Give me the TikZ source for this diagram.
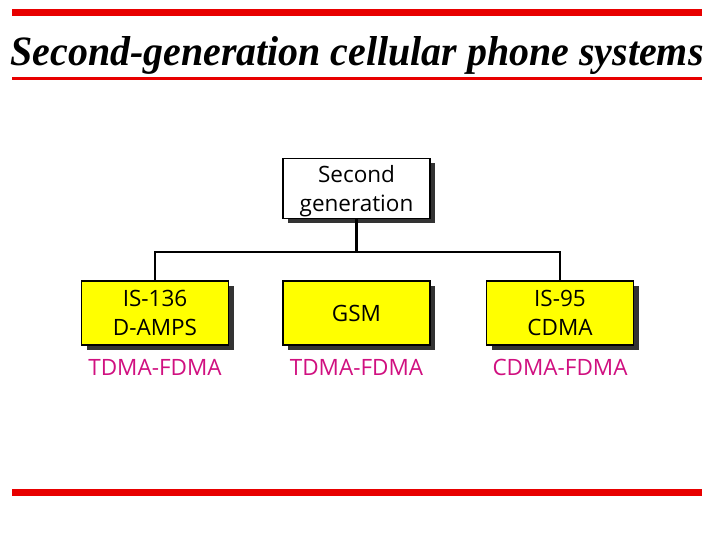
\documentclass[tikz,border=0pt]{standalone}
\usepackage{fontspec}
\usepackage{graphicx}
\setmainfont{Liberation Serif}
\newfontfamily\boxfont{Open Sans}
\usetikzlibrary{shadows}
\definecolor{barred}{RGB}{232,0,0}
\definecolor{boxyellow}{RGB}{255,255,0}
\definecolor{labelpink}{RGB}{208,16,128}
\tikzset{
  genbox/.style={draw=black, line width=1.1pt, minimum width=147pt, minimum height=64pt,
    align=center, font=\boxfont\fontsize{22.5}{29}\selectfont, inner sep=0pt, text depth=0pt,
    drop shadow={shadow xshift=5pt, shadow yshift=-5pt, fill=black!80, opacity=1}},
  techlabel/.style={text=labelpink, font=\boxfont\fontsize{22.5}{27}\selectfont, inner sep=0pt},
  conn/.style={line width=2.4pt, line cap=rect},
  redbar/.style={fill=barred, draw=none}
}
\begin{document}
\begin{tikzpicture}[x=1pt,y=-1pt]
\useasboundingbox (0,0) rectangle (720,540);
\fill[redbar] (12,9.3) rectangle (702,15.7);
\fill[redbar] (12,76.7) rectangle (702,79.7);
\fill[redbar] (12,489) rectangle (702,495.5);
\node[anchor=base, inner sep=0pt] (title) at (357,66)
  {\resizebox{693pt}{29pt}{\bfseries\itshape\fontsize{30}{36}\selectfont Second-generation cellular phone systems}};
\node[genbox, fill=white, minimum height=60pt] (root) at (356.5,188.5) {Second\\generation};
\node[genbox, fill=boxyellow] (b1) at (155,313) {IS-136\\D-AMPS};
\node[genbox, fill=boxyellow] (b2) at (356.5,313) {GSM};
\node[genbox, fill=boxyellow] (b3) at (560,313) {IS-95\\CDMA};
\node[techlabel] (l1) at (155,367) {TDMA-FDMA};
\node[techlabel] (l2) at (356.5,367) {TDMA-FDMA};
\node[techlabel] (l3) at (560,367) {CDMA-FDMA};
\coordinate (hub) at (356.5,252);
\draw[conn] (root.south) -- (hub);
\draw[conn] (b1.north) |- (hub) -| (b3.north);
\end{tikzpicture}
\end{document}
